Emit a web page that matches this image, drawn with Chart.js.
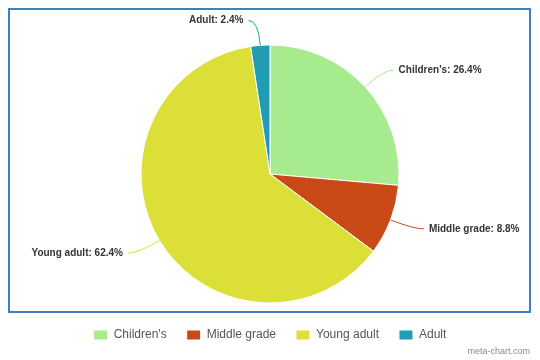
<!DOCTYPE html>
<html>
<head>
<meta charset="utf-8">
<script src="https://cdn.jsdelivr.net/npm/chart.js@4/dist/chart.umd.min.js"></script>
<style>
html,body{margin:0;padding:0;background:#fff;}
#wrap{width:540px;height:360px;position:relative;}
</style>
</head>
<body>
<div id="wrap"><canvas id="c" width="540" height="360"></canvas></div>
<script>
const categories = ["Children's", "Middle grade", "Young adult", "Adult"];
const values = [26.4, 8.8, 62.4, 2.4];
const colors = ["#a6eb8e", "#c94a17", "#dbdf37", "#219db3"];

const FONT = "'Liberation Sans', Arial, sans-serif";

const framePlugin = {
  id: 'frame',
  beforeDraw(chart) {
    const ctx = chart.ctx;
    ctx.save();
    ctx.strokeStyle = '#3f80c4';
    ctx.lineWidth = 2;
    ctx.strokeRect(9, 9, 521, 303);
    ctx.restore();
  },
  afterDraw(chart) {
    const ctx = chart.ctx;
    ctx.save();
    ctx.font = '9px ' + FONT;
    ctx.fillStyle = '#8a8a8a';
    ctx.textAlign = 'right';
    ctx.textBaseline = 'middle';
    ctx.fillText('meta-chart.com', 530, 352);
    ctx.restore();
  }
};

const labelPlugin = {
  id: 'sliceLabels',
  afterDatasetsDraw(chart) {
    const ctx = chart.ctx;
    const meta = chart.getDatasetMeta(0);
    const total = values.reduce((a, b) => a + b, 0);
    ctx.save();
    meta.data.forEach((arc, i) => {
      const p = arc.getProps(['x', 'y', 'startAngle', 'endAngle', 'outerRadius'], true);
      const mid = (p.startAngle + p.endAngle) / 2;
      const cos = Math.cos(mid), sin = Math.sin(mid);
      const sx = p.x + p.outerRadius * cos, sy = p.y + p.outerRadius * sin;
      const ex = p.x + (p.outerRadius + 25) * cos, ey = p.y + (p.outerRadius + 25) * sin;
      const side = cos >= 0 ? 1 : -1;
      const tx = ex + side * 10;
      ctx.strokeStyle = colors[i];
      ctx.lineWidth = 1;
      ctx.beginPath();
      ctx.moveTo(sx, sy);
      ctx.quadraticCurveTo(ex, ey, tx, ey);
      ctx.stroke();
      const pct = (values[i] / total * 100).toFixed(1);
      ctx.font = 'bold 10px ' + FONT;
      ctx.fillStyle = '#333333';
      ctx.textBaseline = 'middle';
      ctx.textAlign = side > 0 ? 'left' : 'right';
      ctx.fillText(categories[i] + ': ' + pct + '%', tx + side * 5, ey);
    });
    ctx.restore();
  }
};

new Chart(document.getElementById('c'), {
  type: 'pie',
  data: {
    labels: categories,
    datasets: [{
      data: values,
      backgroundColor: colors,
      borderColor: '#ffffff',
      borderWidth: 1,
      radius: 129
    }]
  },
  options: {
    responsive: false,
    animation: false,
    layout: { padding: { top: 39, bottom: 9, left: 0, right: 0 } },
    plugins: {
      tooltip: { enabled: false },
      legend: {
        position: 'bottom',
        labels: {
          boxWidth: 14,
          boxHeight: 10,
          padding: 20,
          color: '#555555',
          font: { size: 12, family: FONT }
        }
      }
    }
  },
  plugins: [framePlugin, labelPlugin]
});
</script>
</body>
</html>
